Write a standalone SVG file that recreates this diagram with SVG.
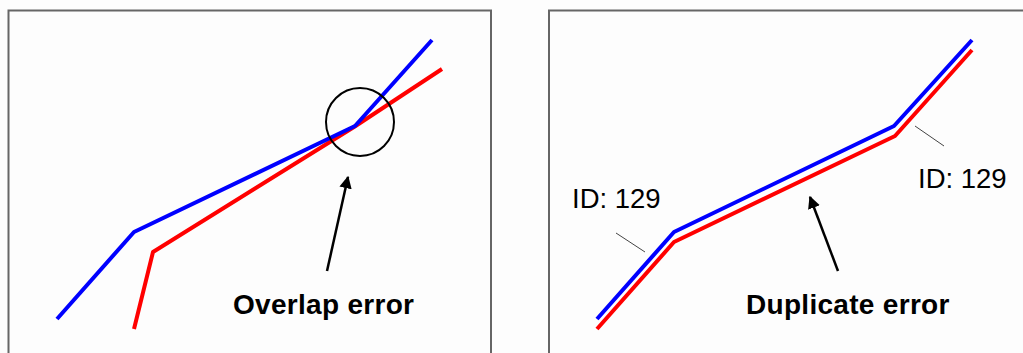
<svg xmlns="http://www.w3.org/2000/svg" width="1023" height="353" viewBox="0 0 1023 353">
<style>
.frame{fill:none;stroke:#666;stroke-width:2}
.blue{fill:none;stroke:#0000ff;stroke-width:4;stroke-linejoin:round}
.red{fill:none;stroke:#ff0000;stroke-width:4;stroke-linejoin:round}
.arrow{stroke:#000;stroke-width:2.5;marker-end:url(#ah)}
.leader{stroke:#444;stroke-width:1}
.big{font-family:"Liberation Sans",Arial,sans-serif;font-weight:bold;font-size:28px;letter-spacing:0.3px;fill:#000}
.id{font-family:"Liberation Sans",Arial,sans-serif;font-size:27.5px;fill:#000}
</style>
<defs>
<marker id="ah" viewBox="0 0 10 10" refX="9" refY="5" markerWidth="5" markerHeight="5" orient="auto" markerUnits="strokeWidth">
<path d="M0,0 L10,5 L0,10 z" fill="#000"/>
</marker>
</defs>
<rect x="0" y="0" width="1023" height="353" fill="#fdfdfd"/>
<g id="panel-left">
<rect class="frame" x="8.5" y="10.5" width="482.5" height="360"/>
<polyline class="red" points="134,329 153,252 354,127 442,69"/>
<polyline class="blue" points="57,319 134,232 355,126 432,40"/>
<circle cx="360" cy="122" r="34" fill="none" stroke="#000" stroke-width="2"/>
<text class="big" x="233" y="314">Overlap error</text>
</g>
<g id="panel-right">
<rect class="frame" x="549" y="10.5" width="500" height="360"/>
<polyline class="blue" points="597,319 674,232 894,126 972,40"/>
<polyline class="red" points="597,329 674,242 895,136 972,50"/>
<text class="id" x="572" y="208">ID: 129</text>
<text class="id" x="918" y="188">ID: 129</text>
<text class="big" x="746" y="314">Duplicate error</text>
</g>
<g id="connectors">
<line class="arrow" x1="327" y1="271" x2="348" y2="177"/>
<line class="arrow" x1="838" y1="271" x2="810" y2="197"/>
<line class="leader" x1="616" y1="233" x2="645" y2="252"/>
<line class="leader" x1="915" y1="126" x2="944" y2="146"/>
</g>
</svg>
